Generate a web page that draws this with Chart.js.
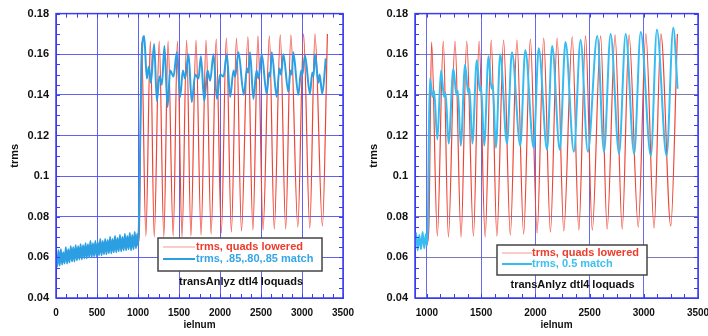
<!DOCTYPE html>
<html>
<head>
<meta charset="utf-8">
<script src="https://cdn.jsdelivr.net/npm/chart.js@4.4.0/dist/chart.umd.min.js"></script>
<style>
  html, body { margin: 0; padding: 0; background: #fff; overflow: hidden; width: 708px; height: 336px; }
  canvas { position: absolute; top: 0; }
  #left { left: 0; }
  #right { left: 354px; }
</style>
</head>
<body>
<canvas id="left" width="380" height="336"></canvas>
<canvas id="right" width="380" height="336"></canvas>
<script>
const yTicks = [0.04, 0.06, 0.08, 0.10, 0.12, 0.14, 0.16, 0.18];
const xTicksLeft = [0, 500, 1000, 1500, 2000, 2500, 3000, 3500];
const xTicksRight = [1000, 1500, 2000, 2500, 3000, 3500];

const seriesNames = ['trms, quads lowered', 'trms, .85,.80,.85 match', 'trms, 0.5 match'];
const noteText = 'transAnlyz dtl4 loquads';

// [ielnum, trms] before the quads change (same for both runs)
const preBlue = [
  [0,0.060],[15,0.0555],[30,0.0635],[45,0.056],[60,0.064],[75,0.0565],[90,0.0625],[105,0.057],
  [120,0.065],[135,0.057],[150,0.064],[165,0.0575],[180,0.0655],[195,0.058],[210,0.065],[225,0.058],
  [240,0.066],[255,0.0585],[270,0.0655],[285,0.059],[300,0.0665],[315,0.059],[330,0.066],[345,0.0595],
  [360,0.067],[375,0.0595],[390,0.0665],[405,0.060],[420,0.068],[435,0.060],[450,0.067],[465,0.0605],
  [480,0.068],[495,0.0605],[510,0.0675],[525,0.061],[540,0.069],[555,0.061],[570,0.068],[585,0.0615],
  [600,0.069],[615,0.0615],[630,0.0685],[645,0.062],[660,0.070],[675,0.062],[690,0.069],[705,0.0625],
  [720,0.0705],[735,0.0625],[750,0.0695],[765,0.063],[780,0.071],[795,0.063],[810,0.070],[825,0.0635],
  [840,0.0715],[855,0.0635],[870,0.0705],[885,0.064],[900,0.072],[915,0.0635],[930,0.071],[945,0.064],
  [960,0.0725],[975,0.0645],[990,0.0715]
];

// trms, quads lowered (peaks and troughs)
const redPts = [
  [1000,0.066],[1018,0.075],[1043,0.166],[1096,0.0705],[1151,0.1665],[1198,0.070],[1259,0.1665],
  [1315,0.070],[1367,0.1665],[1429,0.0705],[1481,0.1665],[1537,0.070],[1593,0.167],[1645,0.0705],
  [1707,0.167],[1769,0.071],[1830,0.167],[1892,0.0715],[1954,0.1675],[2016,0.072],[2077,0.168],
  [2139,0.0725],[2201,0.168],[2262,0.073],[2340,0.1685],[2401,0.0735],[2463,0.169],[2525,0.0735],
  [2602,0.169],[2662,0.074],[2735,0.1695],[2801,0.074],[2864,0.1695],[2949,0.075],[3019,0.170],
  [3095,0.0745],[3158,0.170],[3249,0.0755],[3310,0.170]
];

// trms, .85,.80,.85 match
const blueLeftPts = [
  [1000,0.066],[1012,0.078],[1030,0.125],[1047,0.160],[1075,0.169],[1108,0.148],[1132,0.154],
  [1157,0.146],[1197,0.165],[1230,0.137],[1262,0.149],[1291,0.145],[1323,0.164],[1360,0.134],
  [1392,0.152],[1433,0.149],[1474,0.161],[1514,0.139],[1547,0.152],[1575,0.148],[1616,0.160],
  [1656,0.1365],[1697,0.150],[1738,0.148],[1767,0.159],[1808,0.137],[1848,0.152],[1880,0.147],
  [1921,0.160],[1962,0.138],[2002,0.150],[2043,0.149],[2083,0.160],[2124,0.139],[2165,0.152],
  [2185,0.149],[2225,0.161],[2290,0.140],[2330,0.153],[2345,0.151],[2366,0.161],[2407,0.138],
  [2445,0.152],[2470,0.148],[2509,0.160],[2569,0.1405],[2600,0.151],[2612,0.149],[2631,0.161],
  [2691,0.139],[2725,0.153],[2745,0.150],[2773,0.160],[2833,0.1415],[2860,0.152],[2875,0.150],
  [2894,0.161],[2955,0.140],[2990,0.152],[3005,0.150],[3036,0.1595],[3097,0.1405],[3125,0.151],
  [3140,0.149],[3158,0.160],[3200,0.146],[3215,0.150],[3247,0.1405],[3290,0.158]
];

// trms, 0.5 match
const blueRightPts = [
  [1000,0.066],[1010,0.080],[1018,0.120],[1028,0.148],[1052,0.139],[1066,0.142],[1096,0.118],
  [1130,0.152],[1158,0.139],[1172,0.141],[1200,0.116],[1244,0.153],[1272,0.140],[1285,0.142],
  [1312,0.115],[1352,0.155],[1380,0.141],[1393,0.143],[1419,0.116],[1460,0.157],[1488,0.142],
  [1500,0.144],[1528,0.115],[1568,0.159],[1596,0.143],[1608,0.145],[1636,0.114],[1676,0.160],
  [1738,0.116],[1784,0.161],[1861,0.115],[1907,0.162],[1984,0.114],[2031,0.163],[2108,0.113],
  [2155,0.164],[2225,0.113],[2278,0.166],[2355,0.112],[2417,0.167],[2484,0.112],[2571,0.169],
  [2633,0.112],[2694,0.170],[2772,0.111],[2833,0.170],[2911,0.111],[2972,0.171],[3065,0.110],
  [3121,0.172],[3210,0.110],[3272,0.173],[3312,0.143]
];

const toXY = pts => pts.map(p => ({ x: p[0], y: p[1] }));
const fontFamily = "Arial, 'Liberation Sans', Helvetica, sans-serif";
const yFont = { family: fontFamily, size: 11, weight: 'bold' };
const xFont = { family: fontFamily, size: 10, weight: 'bold' };
const frameBlue = '#3b3bf0';

// frame, inward minor ticks, boxed legend and note
const framePlugin = {
  id: 'frame',
  afterDatasetsDraw(chart, args, o) {
    const { ctx, chartArea: a } = chart;
    const x = chart.scales.x, y = chart.scales.y;
    ctx.save();
    ctx.strokeStyle = frameBlue;
    ctx.lineWidth = 1;
    ctx.beginPath();
    for (let k = 0; k <= 28; k++) {
      const py = Math.round(y.getPixelForValue(0.04 + k * 0.005)) + 0.5;
      ctx.moveTo(a.left, py); ctx.lineTo(a.left + 4, py);
      ctx.moveTo(a.right, py); ctx.lineTo(a.right - 4, py);
    }
    for (let k = 0; k <= 28; k++) {
      const v = k * 125;
      if (v < x.min) continue;
      const px = Math.round(x.getPixelForValue(v)) + 0.5;
      ctx.moveTo(px, a.bottom); ctx.lineTo(px, a.bottom - 4);
      ctx.moveTo(px, a.top); ctx.lineTo(px, a.top + 4);
    }
    ctx.stroke();
    ctx.lineWidth = 1.5;
    ctx.strokeRect(a.left, a.top, a.right - a.left, a.bottom - a.top);

    // legend box
    const [bx, by, bw, bh] = o.box;
    ctx.fillStyle = '#fff';
    ctx.fillRect(bx, by, bw, bh);
    ctx.strokeStyle = '#444';
    ctx.lineWidth = 1.5;
    ctx.strokeRect(bx, by, bw, bh);
    ctx.font = 'bold 11px ' + fontFamily;
    ctx.textBaseline = 'middle';
    ctx.textAlign = 'left';
    o.rows.forEach(r => {
      ctx.strokeStyle = r.line;
      ctx.lineWidth = r.width;
      ctx.beginPath();
      ctx.moveTo(o.lineX[0], r.y); ctx.lineTo(o.lineX[1], r.y);
      ctx.stroke();
      ctx.fillStyle = r.color;
      ctx.fillText(r.text, o.textX, r.y);
    });
    ctx.fillStyle = '#111';
    ctx.textAlign = 'center';
    ctx.fillText(noteText, o.note[0], o.note[1]);
    ctx.restore();
  }
};

function makeChart(id, c) {
  return new Chart(document.getElementById(id), {
    type: 'line',
    data: {
      datasets: [
        { label: c.blueLabel, data: toXY(preBlue.concat(c.blue)), borderColor: c.blueColor, borderWidth: 2, order: 1 },
        { label: seriesNames[0], data: toXY(redPts), borderColor: '#ee4536', borderWidth: 1.2, order: 2 }
      ]
    },
    options: {
      responsive: false,
      animation: false,
      layout: { padding: { left: 0, right: c.padRight, top: 13, bottom: 0 } },
      elements: { point: { radius: 0 }, line: { cubicInterpolationMode: 'monotone' } },
      plugins: {
        legend: { display: false },
        tooltip: { enabled: false },
        frame: c.legend
      },
      scales: {
        x: {
          type: 'linear', min: c.xMin, max: 3500,
          afterBuildTicks: s => { s.ticks = c.xTicks.map(v => ({ value: v })); },
          afterFit: s => { s.height = 38; },
          grid: { color: c.vGrid, lineWidth: 1, drawTicks: false },
          border: { color: frameBlue, width: 1 },
          ticks: { padding: 9, color: '#111', font: xFont, maxRotation: 0, callback: v => String(v) },
          title: { display: true, text: 'ielnum', color: '#111', font: xFont, padding: { top: 0, bottom: 5 } }
        },
        y: {
          min: 0.04, max: 0.18,
          afterBuildTicks: s => { s.ticks = yTicks.map(v => ({ value: v })); },
          afterFit: s => { s.width = c.yWidth; },
          grid: { color: c.hGrid, lineWidth: 1, drawTicks: false },
          border: { color: frameBlue, width: 1 },
          ticks: { padding: 7, color: '#111', font: yFont, callback: v => String(+v.toFixed(2)) },
          title: { display: true, text: 'trms', color: '#111', font: yFont, padding: { top: c.yTitlePad, bottom: 0 } }
        }
      }
    },
    plugins: [framePlugin]
  });
}

makeChart('left', {
  blue: blueLeftPts, blueLabel: seriesNames[1], blueColor: '#2c9ee2',
  xMin: 0, xTicks: xTicksLeft, padRight: 37, yWidth: 56, yTitlePad: 8.4,
  vGrid: 'rgba(70,70,240,0.85)', hGrid: 'rgba(70,70,240,0.85)',
  legend: {
    box: [158, 238, 164, 33], lineX: [163, 195], textX: 196,
    rows: [
      { text: seriesNames[0], color: '#ee3b2b', line: '#f39a90', width: 1, y: 247 },
      { text: seriesNames[1], color: '#34a6e6', line: '#2c9ee2', width: 2, y: 259 }
    ],
    note: [241, 282]
  }
});

makeChart('right', {
  blue: blueRightPts, blueLabel: seriesNames[2], blueColor: '#36bcf0',
  xMin: 890, xTicks: xTicksRight, padRight: 36, yWidth: 61, yTitlePad: 13,
  vGrid: 'rgba(80,80,235,0.85)', hGrid: 'rgba(100,100,160,0.85)',
  legend: {
    box: [143, 245, 150, 30], lineX: [148, 178], textX: 178,
    rows: [
      { text: seriesNames[0], color: '#ee3b2b', line: '#f39a90', width: 1, y: 253 },
      { text: seriesNames[2], color: '#3cc0f0', line: '#36bcf0', width: 2, y: 264 }
    ],
    note: [218.5, 285]
  }
});
</script>
</body>
</html>
